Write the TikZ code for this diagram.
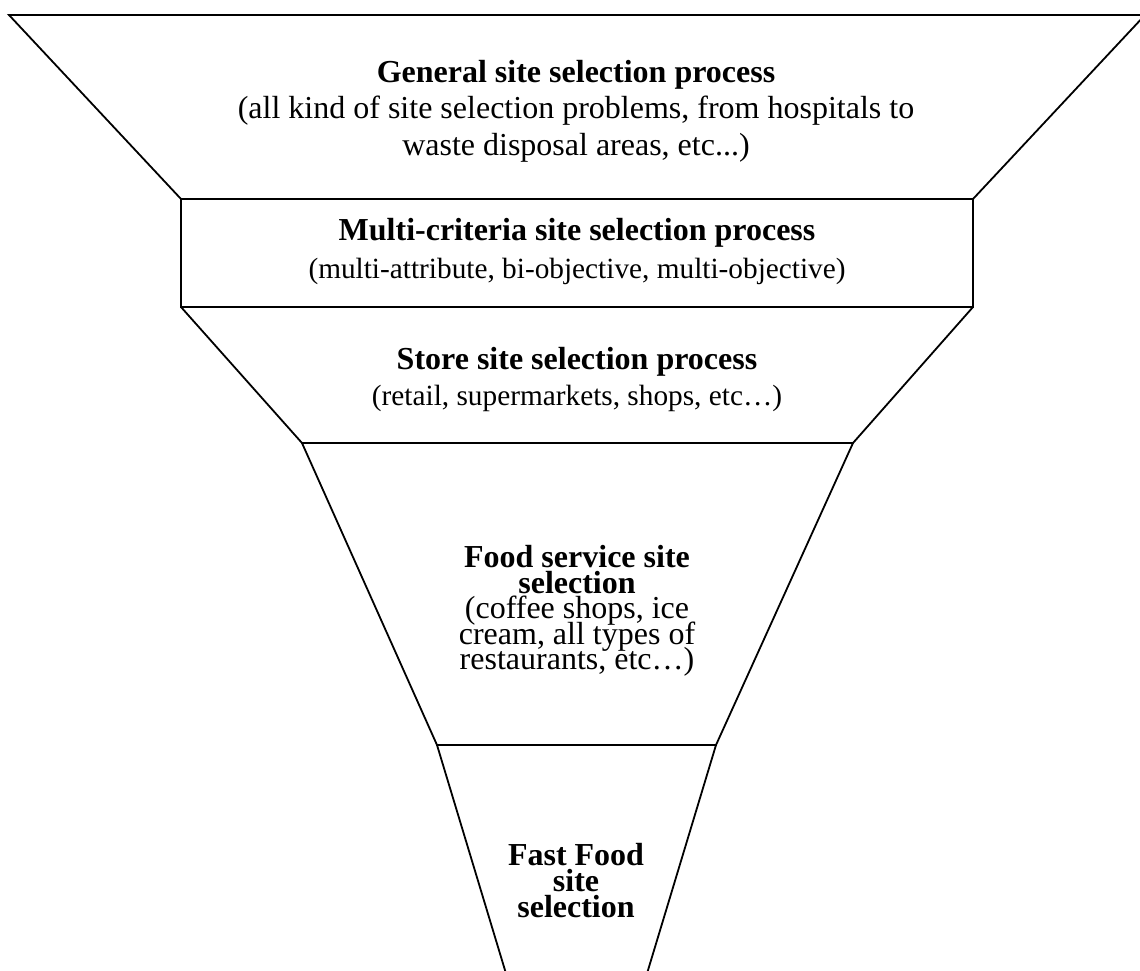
\documentclass[tikz,border=0pt]{standalone}
\usepackage{fontspec}
\setmainfont{Liberation Serif}
% let tightly spaced label lines keep their exact baseline distance
\lineskiplimit=-1000pt
\begin{document}
\begin{tikzpicture}[x=1pt, y=-1pt, line width=1.8pt, line join=miter,
  stage/.style={align=center, inner sep=0pt}]
\useasboundingbox (0,0) rectangle (1140,970);
\clip (0,0) rectangle (1140,970);

% funnel outline, from the wide mouth down to the spout
\coordinate (mouthL) at (9,15);
\coordinate (mouthR) at (1145,15);
\coordinate (boxTL) at (181,199);
\coordinate (boxTR) at (973,199);
\coordinate (boxBL) at (181,307);
\coordinate (boxBR) at (973,307);
\coordinate (storeL) at (302,443);
\coordinate (storeR) at (853,443);
\coordinate (foodL) at (437,745);
\coordinate (foodR) at (716,745);
\coordinate (spoutL) at (514,1000);
\coordinate (spoutR) at (639,1000);

\draw (boxTL) -- (mouthL) -- (mouthR) -- (boxTR);
\draw (boxTL) rectangle (boxBR);
\draw (boxBL) -- (storeL) -- (storeR) -- (boxBR);
\draw (storeL) -- (foodL) -- (foodR) -- (storeR);
\draw (foodL) -- (spoutL);
\draw (foodR) -- (spoutR);

% stage labels
\node[stage, font=\fontsize{32}{36.5}\selectfont] (general) at (576,111)
  {\textbf{General site selection process}\\
   (all kind of site selection problems, from hospitals to\\
   waste disposal areas, etc...)};
\node[stage, font=\fontsize{32}{38}\selectfont] (multi) at (577,251.5)
  {\textbf{Multi-criteria site selection process}\\
   {\fontsize{29.3}{38}\selectfont (multi-attribute, bi-objective, multi-objective)}};
\node[stage, font=\fontsize{32}{36}\selectfont] (store) at (577,379.5)
  {\textbf{Store site selection process}\\
   {\fontsize{29.3}{36}\selectfont (retail, supermarkets, shops, etc…)}};
\node[stage, font=\fontsize{32}{25.5}\selectfont] (food) at (577,611)
  {\textbf{Food service site}\\
   \textbf{selection}\\
   (coffee shops, ice\\
   cream, all types of\\
   restaurants, etc…)};
\node[stage, font=\bfseries\fontsize{32}{26}\selectfont] (fast) at (576,881)
  {Fast Food\\ site\\ selection};
\end{tikzpicture}
\end{document}
